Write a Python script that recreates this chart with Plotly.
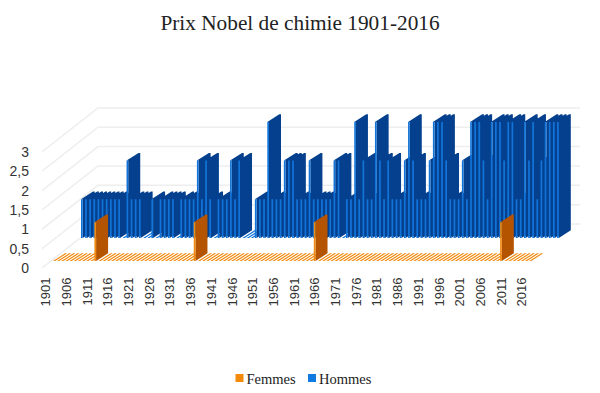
import plotly.graph_objects as go

years = list(range(1901, 2017))
hommes = [1,1,1,1,1,1,1,1,1,1, 0,2,1,1,1,0,0,1,0,1,
          1,1,1,0,1,1,1,1,2,1, 2,1,0,1,1,1,2,1,2,0,
          0,0,1,1,1,3,1,1,1,2, 2,2,1,1,1,2,1,1,1,1,
          1,2,2,0,1,1,3,1,2,1, 1,3,2,1,2,1,1,1,2,3,
          2,1,1,1,2,3,3,3,2,1, 1,1,2,1,3,3,3,2,1,3,
          3,3,2,3,3,1,1,3,2,3, 1,2,3,3,3,3]
femmes = [1 if y in (1911, 1935, 1964, 2009) else 0 for y in years]
y_ticks = [0, 0.5, 1, 1.5, 2, 2.5, 3]
x_ticks = list(range(1901, 2017, 5))

PX_X = 4.14    # pixels per year
PX_Y = 38.7    # pixels per unit
X0_PX, Y0_PX = 46, 268   # pixel of (1901, 0) on the front plane
L, R, T, B = 42, 580, 100, 272
PAGE = 8       # the page body offsets the figure by this many pixels


def fx(px):
    return (px - PAGE) / 600


def fy(py):
    return 1 - (py - PAGE) / 393


W = 1.7 / PX_X           # front face width
WZ = 2.2 / PX_X          # width of the flat face of a zero-height bar
DX = 12 / PX_X           # bar depth
DY = 7.7 / PX_Y

C_GRID = "#eeeeee"
C_BLUE, C_BLUE_D = "#1274d8", "#04408e"
C_OR, C_OR_D = "#f08a10", "#b45400"


def polys(values, ox, oy):
    dark_x, dark_y, fr_x, fr_y, z_x, z_y = [], [], [], [], [], []
    for yr, v in zip(years, values):
        a = yr + ox
        b = a + W
        base = oy
        if v == 0:
            c = a + WZ
            z_x += [a, c, c + DX, a + DX, a, None]
            z_y += [base, base, base + DY, base + DY, base, None]
            continue
        top = base + v
        dark_x += [b, b + DX, b + DX, b, b, None]
        dark_y += [base, base + DY, top + DY, top, base, None]
        dark_x += [a, b, b + DX, a + DX, a, None]
        dark_y += [top, top, top + DY, top + DY, top, None]
        fr_x += [a, b, b, a, a, None]
        fr_y += [base, base, top, top, base, None]
    return dark_x, dark_y, fr_x, fr_y, z_x, z_y


def face(x, y, color):
    return go.Scatter(x=x, y=y, mode="lines", line=dict(width=0), fill="toself",
                      fillcolor=color, hoverinfo="skip", showlegend=False)


fig = go.Figure()

# walls / floor gridlines
x_left = 1901 + (L - X0_PX) / PX_X
x_back = x_left + 56 / PX_X
x_right = 1901 + (R - X0_PX) / PX_X
gx, gy = [], []
for v in y_ticks:
    gx += [x_left, x_back, x_right, None]
    gy += [v, v + 44 / PX_Y, v + 44 / PX_Y, None]
fig.add_trace(go.Scatter(x=gx, y=gy, mode="lines", line=dict(color=C_GRID, width=1.5),
                         hoverinfo="skip", showlegend=False))

# back series (Hommes), then front series (Femmes)
series = [(hommes, 35 / PX_X, 30 / PX_Y, C_BLUE, C_BLUE_D),
          (femmes, 7 / PX_X, 7 / PX_Y, C_OR, C_OR_D)]
for vals, ox, oy, light, dark in series:
    dx_, dy_, xf, yf, zx, zy = polys(vals, ox, oy)
    fig.add_trace(face(zx, zy, light))
    fig.add_trace(face(dx_, dy_, dark))
    fig.add_trace(face(xf, yf, light))

for name, col in (("Femmes", "#f58a0a"), ("Hommes", "#0f7be0")):
    fig.add_trace(go.Scatter(x=[None], y=[None], mode="markers", name=name,
                             marker=dict(symbol="square", size=8, color=col)))

fig.update_layout(
    width=600, height=393, autosize=False,
    margin=dict(l=0, r=0, t=0, b=0, autoexpand=False),
    paper_bgcolor="white", plot_bgcolor="rgba(0,0,0,0)",
    separators=", ",
    title=dict(text="Prix Nobel de chimie 1901-2016",
               font=dict(family="Liberation Serif", size=21.3, color="#222222"),
               x=fx(300), xanchor="center", y=fy(23), yanchor="middle"),
    legend=dict(orientation="h", x=fx(303), xanchor="center", y=fy(378), yanchor="middle",
                font=dict(family="Liberation Serif", size=14.5, color="#222222"),
                itemwidth=30, indentation=-15, bgcolor="rgba(0,0,0,0)"),
    xaxis=dict(domain=[fx(L), fx(R)], automargin=False,
               range=[x_left, x_right], showgrid=False, zeroline=False, showline=False,
               tickmode="array", tickvals=x_ticks, ticks="", tickangle=-90, ticklabelstandoff=2,
               tickfont=dict(family="Liberation Sans", size=13, color="#333333")),
    yaxis=dict(domain=[fy(B), fy(T)], automargin=False,
               range=[(Y0_PX - B) / PX_Y, (Y0_PX - T) / PX_Y], showgrid=False, zeroline=False,
               showline=False, tickmode="array", tickvals=y_ticks, ticks="", ticklabelstandoff=12,
               tickfont=dict(family="Liberation Sans", size=14, color="#333333")),
)
# pull the legend swatches next to their labels and close the gap between entries
shift = """
document.querySelectorAll('.legendsymbols').forEach(function (g) {
  g.setAttribute('transform', 'translate(13,0)');
});
var items = document.querySelectorAll('.legend .traces');
if (items.length > 1) {
  var m = /translate\\(([-\\d.]+)[, ]+([-\\d.]+)\\)/.exec(items[1].getAttribute('transform'));
  if (m) { items[1].setAttribute('transform', 'translate(' + (parseFloat(m[1]) - 7) + ',' + m[2] + ')'); }
}
"""
fig.write_html("out.html", post_script=shift)
